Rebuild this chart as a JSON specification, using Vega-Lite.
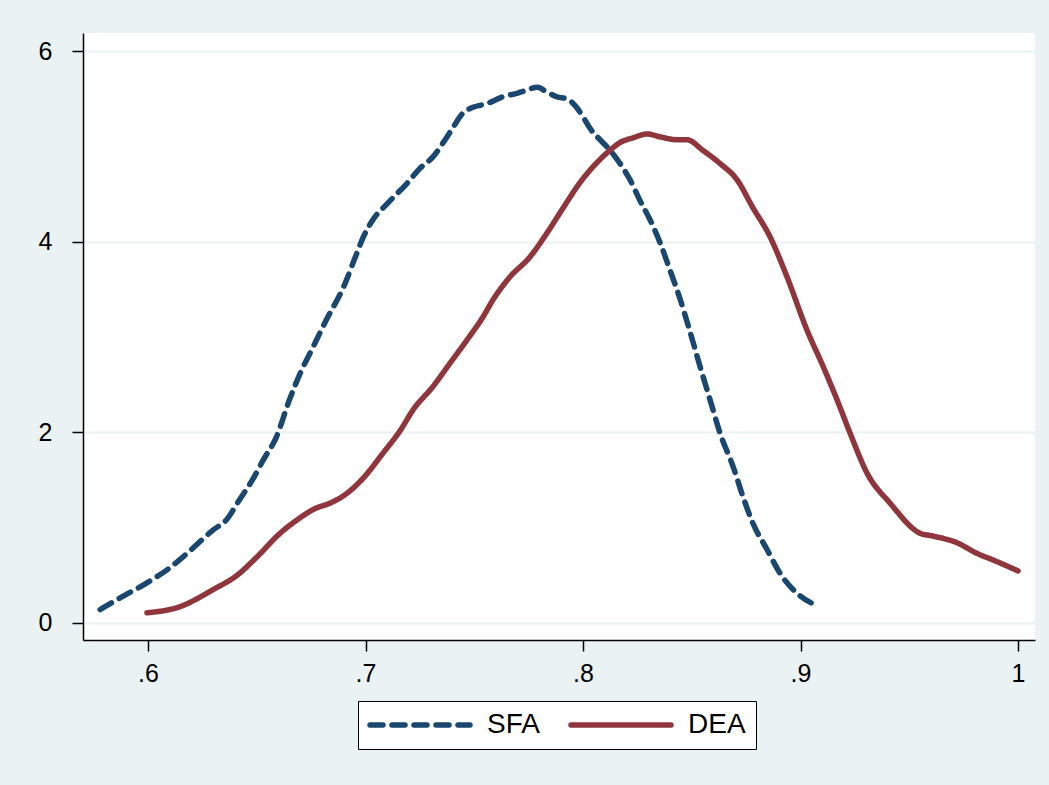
{
  "$schema": "https://vega.github.io/schema/vega-lite/v6.json",
  "description": "Kernel density of SFA and DEA efficiency scores",
  "autosize": {"type": "none"},
  "padding": {"left": 83, "top": 33, "right": 14, "bottom": 145},
  "width": 952,
  "height": 607,
  "background": "#eaf2f3",
  "config": {
    "view": {"fill": "white", "stroke": null},
    "font": "Liberation Sans"
  },
  "data": {
    "values": [
      {"x": 0.578, "y": 0.14, "series": "SFA"},
      {"x": 0.587, "y": 0.26, "series": "SFA"},
      {"x": 0.5995, "y": 0.42, "series": "SFA"},
      {"x": 0.6087, "y": 0.556, "series": "SFA"},
      {"x": 0.618, "y": 0.73, "series": "SFA"},
      {"x": 0.63, "y": 0.976, "series": "SFA"},
      {"x": 0.636, "y": 1.08, "series": "SFA"},
      {"x": 0.642, "y": 1.29, "series": "SFA"},
      {"x": 0.648, "y": 1.5, "series": "SFA"},
      {"x": 0.653, "y": 1.71, "series": "SFA"},
      {"x": 0.659, "y": 1.95, "series": "SFA"},
      {"x": 0.665, "y": 2.34, "series": "SFA"},
      {"x": 0.67, "y": 2.62, "series": "SFA"},
      {"x": 0.676, "y": 2.9, "series": "SFA"},
      {"x": 0.682, "y": 3.18, "series": "SFA"},
      {"x": 0.69, "y": 3.53, "series": "SFA"},
      {"x": 0.696, "y": 3.88, "series": "SFA"},
      {"x": 0.699, "y": 4.05, "series": "SFA"},
      {"x": 0.7034, "y": 4.23, "series": "SFA"},
      {"x": 0.71, "y": 4.4, "series": "SFA"},
      {"x": 0.719, "y": 4.61, "series": "SFA"},
      {"x": 0.725, "y": 4.77, "series": "SFA"},
      {"x": 0.731, "y": 4.89, "series": "SFA"},
      {"x": 0.7366, "y": 5.07, "series": "SFA"},
      {"x": 0.74, "y": 5.19, "series": "SFA"},
      {"x": 0.7448, "y": 5.35, "series": "SFA"},
      {"x": 0.7494, "y": 5.41, "series": "SFA"},
      {"x": 0.756, "y": 5.45, "series": "SFA"},
      {"x": 0.763, "y": 5.52, "series": "SFA"},
      {"x": 0.77, "y": 5.56, "series": "SFA"},
      {"x": 0.774, "y": 5.59, "series": "SFA"},
      {"x": 0.779, "y": 5.62, "series": "SFA"},
      {"x": 0.7834, "y": 5.57, "series": "SFA"},
      {"x": 0.788, "y": 5.52, "series": "SFA"},
      {"x": 0.7926, "y": 5.5, "series": "SFA"},
      {"x": 0.797, "y": 5.41, "series": "SFA"},
      {"x": 0.8, "y": 5.31, "series": "SFA"},
      {"x": 0.8032, "y": 5.19, "series": "SFA"},
      {"x": 0.8078, "y": 5.07, "series": "SFA"},
      {"x": 0.8124, "y": 4.96, "series": "SFA"},
      {"x": 0.817, "y": 4.82, "series": "SFA"},
      {"x": 0.8216, "y": 4.65, "series": "SFA"},
      {"x": 0.826, "y": 4.44, "series": "SFA"},
      {"x": 0.8308, "y": 4.23, "series": "SFA"},
      {"x": 0.8354, "y": 3.99, "series": "SFA"},
      {"x": 0.84, "y": 3.7, "series": "SFA"},
      {"x": 0.8446, "y": 3.4, "series": "SFA"},
      {"x": 0.849, "y": 3.07, "series": "SFA"},
      {"x": 0.8538, "y": 2.69, "series": "SFA"},
      {"x": 0.8584, "y": 2.34, "series": "SFA"},
      {"x": 0.863, "y": 1.99, "series": "SFA"},
      {"x": 0.869, "y": 1.64, "series": "SFA"},
      {"x": 0.8736, "y": 1.32, "series": "SFA"},
      {"x": 0.878, "y": 1.05, "series": "SFA"},
      {"x": 0.8846, "y": 0.77, "series": "SFA"},
      {"x": 0.8906, "y": 0.52, "series": "SFA"},
      {"x": 0.8984, "y": 0.31, "series": "SFA"},
      {"x": 0.9076, "y": 0.18, "series": "SFA"},
      {"x": 0.5995, "y": 0.105, "series": "DEA"},
      {"x": 0.6147, "y": 0.17, "series": "DEA"},
      {"x": 0.63, "y": 0.35, "series": "DEA"},
      {"x": 0.641, "y": 0.5, "series": "DEA"},
      {"x": 0.65, "y": 0.69, "series": "DEA"},
      {"x": 0.6607, "y": 0.94, "series": "DEA"},
      {"x": 0.6685, "y": 1.08, "series": "DEA"},
      {"x": 0.676, "y": 1.19, "series": "DEA"},
      {"x": 0.685, "y": 1.27, "series": "DEA"},
      {"x": 0.6915, "y": 1.36, "series": "DEA"},
      {"x": 0.699, "y": 1.52, "series": "DEA"},
      {"x": 0.708, "y": 1.78, "series": "DEA"},
      {"x": 0.716, "y": 2.02, "series": "DEA"},
      {"x": 0.722, "y": 2.24, "series": "DEA"},
      {"x": 0.731, "y": 2.48, "series": "DEA"},
      {"x": 0.739, "y": 2.73, "series": "DEA"},
      {"x": 0.7467, "y": 2.97, "series": "DEA"},
      {"x": 0.754, "y": 3.21, "series": "DEA"},
      {"x": 0.7586, "y": 3.39, "series": "DEA"},
      {"x": 0.7664, "y": 3.63, "series": "DEA"},
      {"x": 0.7756, "y": 3.84, "series": "DEA"},
      {"x": 0.7834, "y": 4.09, "series": "DEA"},
      {"x": 0.791, "y": 4.36, "series": "DEA"},
      {"x": 0.7986, "y": 4.62, "series": "DEA"},
      {"x": 0.8064, "y": 4.83, "series": "DEA"},
      {"x": 0.8124, "y": 4.96, "series": "DEA"},
      {"x": 0.817, "y": 5.04, "series": "DEA"},
      {"x": 0.823, "y": 5.09, "series": "DEA"},
      {"x": 0.8294, "y": 5.13, "series": "DEA"},
      {"x": 0.8354, "y": 5.1, "series": "DEA"},
      {"x": 0.843, "y": 5.07, "series": "DEA"},
      {"x": 0.8478, "y": 5.07, "series": "DEA"},
      {"x": 0.855, "y": 4.96, "series": "DEA"},
      {"x": 0.863, "y": 4.82, "series": "DEA"},
      {"x": 0.8708, "y": 4.65, "series": "DEA"},
      {"x": 0.878, "y": 4.36, "series": "DEA"},
      {"x": 0.886, "y": 4.05, "series": "DEA"},
      {"x": 0.8938, "y": 3.63, "series": "DEA"},
      {"x": 0.903, "y": 3.07, "series": "DEA"},
      {"x": 0.9104, "y": 2.69, "series": "DEA"},
      {"x": 0.9168, "y": 2.34, "series": "DEA"},
      {"x": 0.9228, "y": 1.99, "series": "DEA"},
      {"x": 0.9306, "y": 1.57, "series": "DEA"},
      {"x": 0.941, "y": 1.26, "series": "DEA"},
      {"x": 0.955, "y": 0.94, "series": "DEA"},
      {"x": 0.961, "y": 0.91, "series": "DEA"},
      {"x": 0.972, "y": 0.84, "series": "DEA"},
      {"x": 0.981, "y": 0.73, "series": "DEA"},
      {"x": 0.9885, "y": 0.66, "series": "DEA"},
      {"x": 1.0, "y": 0.545, "series": "DEA"}
    ]
  },
  "mark": {"type": "line", "strokeWidth": 5.5, "strokeCap": "round", "strokeJoin": "round", "interpolate": "monotone"},
  "encoding": {
    "x": {
      "field": "x", "type": "quantitative",
      "scale": {"domain": [0.5701, 1.0078], "nice": false, "zero": false},
      "axis": {
        "title": null, "values": [0.6, 0.7, 0.8, 0.9, 1.0], "grid": false,
        "domainColor": "black", "domainWidth": 1.5, "tickColor": "black", "tickWidth": 1.5, "tickSize": 11,
        "labelFontSize": 25, "labelColor": "black", "labelPadding": 10, "labelFont": "Liberation Sans",
        "labelExpr": "datum.value >= 1 ? '1' : '.' + format(datum.value * 10, 'd')"
      }
    },
    "y": {
      "field": "y", "type": "quantitative",
      "scale": {"domain": [-0.18, 6.19], "nice": false, "zero": false},
      "axis": {
        "title": null, "values": [0, 2, 4, 6], "format": "d", "grid": true, "gridColor": "#eaf2f3", "gridWidth": 2,
        "domainColor": "black", "domainWidth": 1.5, "tickColor": "black", "tickWidth": 1.5, "tickSize": 11,
        "labelFontSize": 25, "labelColor": "black", "labelPadding": 20, "labelFont": "Liberation Sans"
      }
    },
    "color": {
      "field": "series", "type": "nominal",
      "scale": {"domain": ["SFA", "DEA"], "range": ["#1a476f", "#90353b"]},
      "legend": {
        "title": null, "orient": "none", "legendX": 275, "legendY": 668, "direction": "horizontal",
        "fillColor": "white", "strokeColor": "black", "padding": 10, "columnPadding": 20,
        "symbolType": "M-5,0H5", "symbolSize": 400, "symbolStrokeWidth": 5.5,
        "labelFontSize": 28, "labelColor": "black", "labelFont": "Liberation Sans", "labelOffset": 91,
        "encode": {"symbols": {"update": {"strokeCap": {"value": "round"}, "x": {"value": 52}}}}
      }
    },
    "strokeDash": {
      "field": "series", "type": "nominal",
      "scale": {"domain": ["SFA", "DEA"], "range": [[13, 9], [1, 0]]},
      "legend": null
    }
  }
}
